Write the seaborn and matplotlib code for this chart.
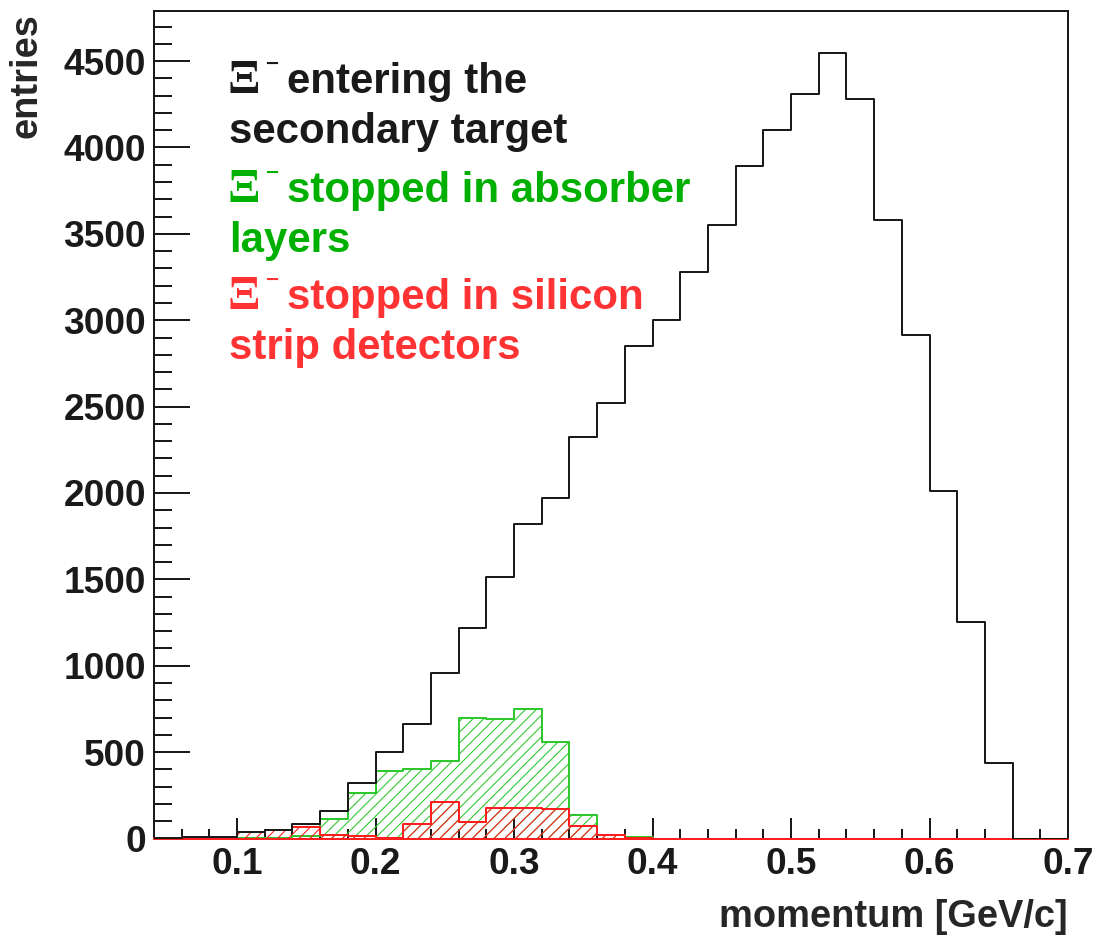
import numpy as np
import pandas as pd
import matplotlib
matplotlib.use("Agg")
import matplotlib.pyplot as plt
import seaborn as sns
from matplotlib.ticker import MultipleLocator

# Momentum binning [GeV/c]: 33 bins of 0.02 from 0.04 to 0.70
bin_edges = [round(0.04 + 0.02 * i, 2) for i in range(34)]
bin_centers = [round(e + 0.01, 3) for e in bin_edges[:-1]]

# Entries per bin
entering = [5, 10, 10, 38, 52, 85, 160, 322, 502, 660, 957, 1219, 1511, 1821,
            1970, 2323, 2520, 2853, 3000, 3280, 3550, 3893, 4101, 4311, 4549,
            4279, 3580, 2917, 2010, 1252, 438, 0, 0]
absorber = [0, 3, 3, 4, 4, 12, 114, 266, 388, 405, 450, 698, 689, 750, 561,
            135, 18, 10, 0, 0, 0, 0, 0, 0, 0, 0, 0, 0, 0, 0, 0, 0, 0]
silicon = [4, 9, 9, 35, 48, 64, 21, 12, 2, 83, 211, 95, 178, 178, 170, 73, 22,
           2, 0, 0, 0, 0, 0, 0, 0, 0, 0, 0, 0, 0, 0, 0, 0]

x_ticks = [0.1, 0.2, 0.3, 0.4, 0.5, 0.6, 0.7]
y_ticks = [0, 500, 1000, 1500, 2000, 2500, 3000, 3500, 4000, 4500]

df = pd.DataFrame({"p": bin_centers, "entering": entering,
                   "absorber": absorber, "silicon": silicon})

BLACK = "#1a1a1a"
GREEN_LINE = "#2ec82e"
GREEN_TEXT = "#00b000"
RED_LINE = "#ff1e1e"
RED_TEXT = "#ff3333"

sns.set_style("white")
plt.rcParams["font.family"] = ["Liberation Sans", "DejaVu Sans"]
plt.rcParams["font.weight"] = "bold"
plt.rcParams["hatch.linewidth"] = 0.6

DPI = 130
W, H = 1096, 937
fig = plt.figure(figsize=(W / DPI, H / DPI), dpi=DPI)
ax = fig.add_axes([154 / W, (H - 838.5) / H, (1068 - 154) / W, (838.5 - 11) / H])

px = 72.0 / DPI  # one pixel in points

sns.histplot(data=df, x="p", weights="entering", bins=bin_edges, element="step",
             fill=False, color=BLACK, linewidth=2 * px, ax=ax)
sns.histplot(data=df, x="p", weights="absorber", bins=bin_edges, element="step",
             fill=True, color=GREEN_LINE, facecolor="none",
             edgecolor=GREEN_LINE, hatch="////", linewidth=2 * px,
             clip_on=False, ax=ax)
sns.histplot(data=df, x="p", weights="silicon", bins=bin_edges, element="step",
             fill=True, color=RED_LINE, facecolor="none",
             edgecolor=RED_LINE, hatch="////", linewidth=2 * px,
             clip_on=False, ax=ax)

ax.set_xlim(0.04, 0.70)
ax.set_ylim(0, 4790)
ax.set_xticks(x_ticks)
ax.set_xticklabels([f"{t:.1f}" for t in x_ticks])
ax.set_yticks(y_ticks)
ax.set_yticklabels([str(t) for t in y_ticks])
ax.xaxis.set_minor_locator(MultipleLocator(0.02))
ax.yaxis.set_minor_locator(MultipleLocator(100))

fs = 37 * px
ax.tick_params(axis="x", which="major", direction="in", length=21 * px,
               width=2 * px, pad=9 * px, labelsize=fs, colors=BLACK,
               top=False, bottom=True)
ax.tick_params(axis="x", which="minor", direction="in", length=10 * px,
               width=2 * px, top=False, bottom=True, colors=BLACK)
ax.tick_params(axis="y", which="major", direction="in", length=36 * px,
               width=2 * px, pad=8 * px, labelsize=fs, colors=BLACK,
               left=True, right=False)
ax.tick_params(axis="y", which="minor", direction="in", length=18 * px,
               width=2 * px, left=True, right=False, colors=BLACK)
for lab in ax.get_xticklabels() + ax.get_yticklabels():
    lab.set_fontweight("bold")

for side in ["left", "right", "top", "bottom"]:
    ax.spines[side].set_visible(True)
    ax.spines[side].set_linewidth(2 * px)
    ax.spines[side].set_color(BLACK)
    ax.spines[side].set_zorder(0.5)

ax.set_xlabel("momentum [GeV/c]", fontsize=38 * px, fontweight="bold",
              loc="right")
ax.xaxis.set_label_coords(1.0, -(927 - 838.5) / (838.5 - 11))
ax.xaxis.label.set_va("baseline")
ax.set_ylabel("entries", fontsize=38 * px, fontweight="bold", loc="top")
ax.yaxis.set_label_coords((37 - 154) / (1068 - 154), 1 - 2 / (838.5 - 11))
ax.yaxis.label.set_va("baseline")


def fx(x):
    return x / W


def fy(y):
    return 1 - y / H


# Series descriptions written inside the frame
legend_fs = 42 * px
entries_text = [
    (["entering the", "secondary target"], BLACK, 93),
    (["stopped in absorber", "layers"], GREEN_TEXT, 202),
    (["stopped in silicon", "strip detectors"], RED_TEXT, 309),
]
for lines, col, base in entries_text:
    fig.text(fx(228), fy(base), "\u039e", family=["Liberation Serif"],
             fontweight="bold", fontsize=48 * px, color=col,
             ha="left", va="baseline")
    fig.text(fx(264), fy(base - 29), "\u2212", family=["DejaVu Sans"],
             fontweight="bold", fontsize=18 * px, color=col,
             ha="left", va="center")
    fig.text(fx(287), fy(base), lines[0], fontsize=legend_fs,
             fontweight="bold", color=col, ha="left", va="baseline")
    fig.text(fx(229), fy(base + 50), lines[1], fontsize=legend_fs,
             fontweight="bold", color=col, ha="left", va="baseline")

fig.savefig("out.png", dpi=DPI)
